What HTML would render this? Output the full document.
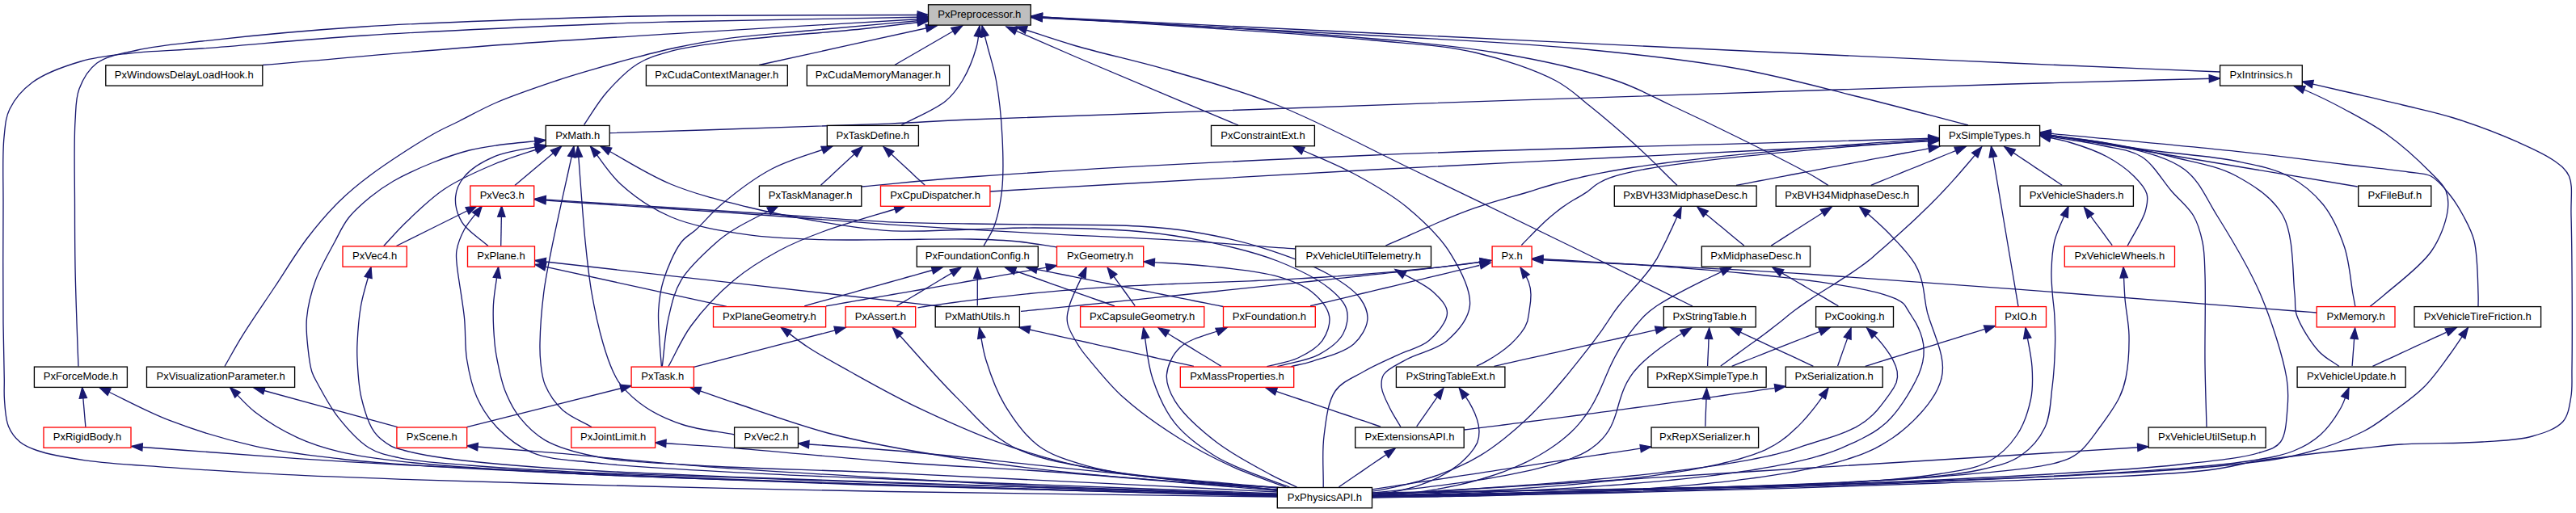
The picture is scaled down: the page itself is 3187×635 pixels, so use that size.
<!DOCTYPE html>
<html><head><meta charset="utf-8"><title>PxPreprocessor.h</title>
<style>html,body{margin:0;padding:0;background:#fff}svg{display:block}text{font-family:"Liberation Sans",sans-serif;font-size:13.05px;fill:#000;text-anchor:middle}.e{fill:none;stroke:#191970;stroke-width:1.33}.a{fill:#191970;stroke:#191970;stroke-width:1.33}.n{fill:#fff;stroke:#000;stroke-width:1.33}.r{fill:#fff;stroke:#f00;stroke-width:1.33}</style></head><body>
<svg width="3187" height="635" viewBox="0 0 3187 635">
<rect width="3187" height="635" fill="#fff"/>
<path class="e" d="M1148.5,21.0C1042.3,23.0 900.9,25.2 830.0,27.0 794.5,27.9 785.2,28.1 750.0,29.5 681.9,32.2 539.9,38.2 450.0,44.0 376.6,48.7 303.5,56.1 250.0,60.0 214.1,62.6 186.9,62.9 160.0,66.0 137.9,68.6 119.7,70.2 100.0,76.0 79.6,82.0 55.3,90.7 40.0,102.0 27.6,111.2 17.8,123.0 12.0,135.0 6.7,145.9 6.5,155.7 5.0,170.0 2.7,192.2 4.2,223.7 4.0,256.0 3.8,297.8 3.6,360.6 4.0,400.0 4.3,427.5 5.1,452.5 5.3,470.0 5.4,480.4 4.8,486.1 5.5,495.0 6.3,505.2 6.7,518.6 10.5,527.7 13.7,535.4 18.7,542.0 24.6,547.0 30.4,551.9 36.6,554.4 45.6,557.5 60.2,562.5 82.5,566.5 105.3,569.8 135.3,574.1 172.9,575.8 210.5,578.6 253.9,581.8 303.4,585.0 350.9,587.4 399.8,589.9 441.7,591.3 500.0,593.3 582.7,596.1 700.0,599.5 800.0,602.0 900.0,604.5 988.3,606.5 1100.0,608.5 1241.3,611.0 1420.2,612.8 1580.3,615.0"/><polygon class="a" points="1135.3,25.9 1148.5,21.0 1135.1,16.6"/>
<path class="e" d="M1148.5,24.5C1099.0,29.0 1044.6,33.8 1000.0,38.0 963.4,41.4 929.6,43.6 900.0,47.6 876.2,50.9 856.0,54.8 836.0,59.0 818.1,62.8 802.3,67.0 785.5,71.4 768.6,75.8 751.3,80.7 734.8,85.6 718.9,90.3 705.3,94.2 688.0,100.0 666.1,107.4 635.5,117.7 614.0,127.0 596.6,134.5 581.9,143.0 568.0,150.0 556.4,155.8 548.7,158.7 536.0,166.0 515.4,177.8 479.1,201.2 458.0,217.0 442.3,228.7 431.5,237.6 419.0,250.0 405.5,263.4 392.6,278.5 380.0,295.0 366.2,313.2 353.3,335.0 340.0,355.0 326.7,375.1 311.1,397.4 300.0,415.4 291.3,429.4 285.3,440.8 278.0,453.5"/><polygon class="a" points="1135.6,30.4 1148.5,24.5 1134.8,21.1"/>
<path class="e" d="M1148.5,23.0C1042.3,29.3 927.5,35.8 830.0,41.9 747.1,47.1 680.1,51.0 600.0,57.0 512.4,63.6 416.7,72.7 325.0,80.5"/><polygon class="a" points="1135.5,28.5 1148.5,23.0 1134.9,19.1"/>
<path class="e" d="M1212.0,32.0C1210.7,40.8 1210.7,48.9 1208.0,58.5 1204.5,71.0 1197.6,88.3 1190.6,100.0 1184.6,109.9 1179.5,117.1 1170.0,125.0 1156.8,135.9 1133.3,145.0 1115.0,155.0"/><polygon class="a" points="1214.6,45.9 1212.0,32.0 1205.4,44.5"/>
<path class="e" d="M1148.5,26.0C1120.7,29.3 1097.0,32.6 1065.0,36.0 1022.0,40.5 956.5,44.4 913.6,49.8 881.5,53.9 852.7,57.3 830.0,63.4 813.7,67.8 801.8,71.1 789.0,79.0 774.9,87.7 761.3,102.1 750.0,115.0 739.3,127.3 731.7,141.3 722.6,154.5"/><polygon class="a" points="1135.8,32.2 1148.5,26.0 1134.7,22.9"/>
<path class="e" d="M1215.0,32.0C1217.3,40.8 1219.5,48.7 1222.0,58.5 1225.2,70.8 1229.7,84.3 1232.5,100.0 1236.1,120.2 1238.9,147.0 1240.0,170.0 1241.1,192.3 1241.7,216.3 1239.5,236.0 1237.7,252.3 1234.5,267.7 1230.0,280.0 1226.5,289.6 1221.3,296.3 1217.0,304.5"/><polygon class="a" points="1222.9,43.7 1215.0,32.0 1213.9,46.1"/>
<path class="e" d="M1148.5,18.5C1042.3,18.8 900.9,18.7 830.0,19.5 794.5,19.9 785.2,20.0 750.0,21.0 681.9,23.0 539.8,27.2 450.0,33.0 376.5,37.8 301.6,45.1 250.0,51.0 217.3,54.7 193.3,56.7 170.0,62.0 151.2,66.3 132.3,68.9 120.0,78.0 109.4,85.9 102.5,98.1 98.0,110.0 93.4,122.1 94.1,133.4 93.0,150.0 91.3,176.9 92.5,223.8 92.5,256.0 92.5,282.9 92.6,305.7 93.0,330.0 93.4,353.7 94.3,378.2 95.0,400.0 95.6,419.0 96.3,435.7 97.0,453.5"/><polygon class="a" points="1135.2,23.2 1148.5,18.5 1135.2,13.9"/>
<path class="e" d="M1159.0,32.0C1085.7,48.2 1012.3,64.3 939.0,80.5"/><polygon class="a" points="1147.0,39.4 1159.0,32.0 1145.0,30.3"/>
<path class="e" d="M1190.6,32.0C1162.7,48.2 1134.7,64.3 1106.8,80.5"/><polygon class="a" points="1181.4,42.7 1190.6,32.0 1176.7,34.6"/>
<path class="e" d="M1257.0,33.0C1281.3,40.8 1302.5,48.5 1330.0,56.5 1364.9,66.7 1409.4,76.1 1450.0,88.0 1492.6,100.5 1534.4,111.9 1580.0,130.0 1633.5,151.3 1691.1,182.7 1750.0,211.0 1814.0,241.8 1888.8,278.1 1950.0,308.0 2002.0,333.4 2046.0,355.3 2094.0,379.0"/><polygon class="a" points="1271.1,32.6 1257.0,33.0 1268.3,41.5"/>
<path class="e" d="M1245.0,33.0C1273.3,45.3 1295.6,55.3 1330.0,70.0 1382.9,92.7 1464.7,126.7 1532.0,155.0"/><polygon class="a" points="1259.1,34.0 1245.0,33.0 1255.4,42.6"/>
<path class="e" d="M1276.0,20.0C1350.7,25.0 1427.5,29.9 1500.0,35.0 1568.6,39.9 1641.2,44.3 1700.0,50.0 1746.6,54.5 1786.1,56.0 1825.0,65.0 1860.7,73.3 1899.8,86.7 1925.0,100.0 1942.4,109.2 1951.0,118.4 1965.5,130.0 1983.4,144.3 2005.4,163.1 2024.0,180.0 2041.9,196.3 2058.0,213.0 2075.0,229.5"/><polygon class="a" points="1289.6,16.2 1276.0,20.0 1289.0,25.6"/>
<path class="e" d="M1276.0,21.0C1384.0,27.3 1499.1,32.0 1600.0,40.0 1688.8,47.0 1777.6,53.0 1850.0,65.0 1906.7,74.4 1960.5,86.6 2000.0,100.0 2027.2,109.2 2043.2,119.1 2066.6,130.0 2092.9,142.2 2121.8,156.0 2150.0,170.0 2179.5,184.6 2220.3,204.9 2240.0,216.0 2250.0,221.6 2254.7,225.0 2262.0,229.5"/><polygon class="a" points="1289.6,17.1 1276.0,21.0 1289.0,26.4"/>
<path class="e" d="M1276.0,21.5C1417.3,29.0 1577.2,36.8 1700.0,44.0 1794.3,49.5 1871.4,52.6 1950.0,60.0 2020.5,66.7 2088.4,74.0 2150.0,85.0 2203.9,94.6 2251.4,108.0 2300.0,120.0 2346.3,131.4 2390.0,143.3 2435.0,155.0"/><polygon class="a" points="1289.6,17.5 1276.0,21.5 1289.1,26.9"/>
<path class="e" d="M1276.0,20.5C1417.3,27.3 1552.8,33.9 1700.0,41.0 1859.8,48.7 2056.2,58.3 2200.0,65.0 2309.2,70.1 2394.6,73.9 2488.0,78.0 2576.5,81.9 2660.4,85.3 2746.6,89.0"/><polygon class="a" points="1289.5,16.5 1276.0,20.5 1289.1,25.8"/>
<path class="e" d="M284.5,479.5C294.9,489.7 303.4,500.6 315.8,510.2 330.5,521.6 350.4,533.5 368.4,541.8 385.5,549.7 401.5,554.6 421.0,559.3 444.5,565.0 467.4,567.9 500.0,571.6 552.4,577.5 627.8,581.9 706.0,586.0 809.1,591.5 934.5,594.8 1065.0,599.0 1221.3,604.0 1408.5,608.7 1580.3,613.5"/><polygon class="a" points="297.3,485.5 284.5,479.5 290.7,492.2"/>
<path class="e" d="M314.0,480.0C373.3,496.2 432.5,512.4 491.8,528.6"/><polygon class="a" points="328.1,479.0 314.0,480.0 325.6,488.0"/>
<path class="e" d="M577.7,552.0C613.8,554.9 645.0,557.1 686.0,560.6 739.8,565.2 806.0,572.5 872.7,577.6 949.5,583.5 1045.0,588.6 1121.0,593.0 1185.5,596.7 1233.7,599.6 1300.0,602.5 1383.0,606.1 1486.9,608.8 1580.3,612.0"/><polygon class="a" points="591.4,548.4 577.7,552.0 590.6,557.7"/>
<path class="e" d="M1103.0,191.0L1108.9,196.5 1115.1,202.2 1121.4,208.1 1127.6,213.8 1133.5,219.4 1139.2,224.6 1144.3,229.3"/><polygon class="a" points="1105.9,187.3 1093.0,181.6 1099.6,194.1"/>
<path class="e" d="M1030.0,181.0C1005.0,190.3 978.1,196.8 955.0,209.0 932.4,220.9 909.4,238.9 892.6,253.0 879.9,263.7 870.6,275.5 861.4,284.0 854.5,290.4 848.4,292.4 842.7,300.0 834.4,310.9 825.6,331.8 820.9,346.8 816.9,359.7 815.5,371.4 814.7,384.2 813.9,397.4 815.5,412.4 816.2,424.8 816.8,435.2 817.7,443.9 818.4,453.5"/><polygon class="a" points="1019.1,190.0 1030.0,181.0 1015.9,181.3"/>
<path class="e" d="M1056.8,191.0L1050.8,196.5 1044.6,202.2 1038.4,208.1 1032.2,213.8 1026.2,219.4 1020.6,224.6 1015.5,229.3"/><polygon class="a" points="1060.2,194.1 1066.8,181.6 1053.8,187.3"/>
<path class="e" d="M1120.0,255.0C1085.8,265.7 1045.8,276.5 1017.4,287.0 996.6,294.7 981.9,300.5 964.4,310.0 945.5,320.2 925.8,332.0 908.2,346.8 889.3,362.6 869.2,383.9 855.2,403.0 843.1,419.5 836.4,436.7 827.0,453.5"/><polygon class="a" points="1108.7,263.4 1120.0,255.0 1105.9,254.5"/>
<path class="e" d="M853.6,479.3C873.4,486.2 889.9,492.3 913.0,500.0 945.0,510.7 988.6,526.7 1028.0,537.0 1068.3,547.5 1108.7,554.7 1152.0,562.0 1199.0,570.0 1242.8,576.0 1300.0,582.3 1378.5,591.0 1486.9,598.1 1580.3,606.0"/><polygon class="a" points="867.7,479.3 853.6,479.3 864.7,488.1"/>
<path class="e" d="M781.0,477.5C713.2,494.5 645.4,511.6 577.6,528.6"/><polygon class="a" points="769.2,485.3 781.0,477.5 766.9,476.2"/>
<path class="e" d="M963.0,255.0C944.7,264.7 922.1,275.3 908.2,284.0 899.0,289.8 894.5,292.8 886.4,300.0 873.9,311.1 852.7,330.0 842.7,346.8 833.9,361.5 830.9,376.8 827.0,393.6 822.7,412.1 821.9,433.5 819.3,453.5"/><polygon class="a" points="953.4,265.4 963.0,255.0 949.0,257.1"/>
<path class="e" d="M675.2,173.4C654.8,175.6 631.3,177.5 614.0,180.0 601.2,181.8 592.5,183.0 580.7,186.0 566.8,189.6 551.1,195.0 536.0,201.0 519.9,207.5 500.9,216.0 487.0,224.0 475.8,230.5 467.2,236.5 458.0,244.0 448.5,251.8 438.5,260.4 431.0,270.0 423.8,279.2 419.8,288.8 413.8,300.0 406.4,313.8 396.3,330.9 390.5,346.8 385.0,362.1 380.9,378.8 379.5,393.6 378.2,406.7 379.8,419.4 381.0,431.0 382.1,441.3 383.2,451.9 385.8,460.0 387.8,466.3 390.1,469.5 393.6,476.0 399.4,486.6 408.5,504.0 418.5,516.7 429.1,530.1 442.5,545.6 456.0,554.0 467.7,561.2 478.1,563.2 493.4,566.6 516.2,571.6 549.0,573.3 580.7,576.0 618.6,579.2 658.1,581.5 705.5,583.8 768.1,586.9 854.9,589.2 923.8,591.6 985.7,593.8 1026.8,595.4 1100.0,597.8 1220.8,601.7 1420.2,607.3 1580.3,612.0"/><polygon class="a" points="662.4,179.5 675.2,173.4 661.4,170.2"/>
<path class="e" d="M694.6,181.0C675.4,197.2 656.1,213.3 636.9,229.5"/><polygon class="a" points="687.4,193.2 694.6,181.0 681.4,186.0"/>
<path class="e" d="M675.2,179.6C654.1,184.3 629.8,186.1 612.0,193.7 597.2,200.0 582.6,208.9 574.5,218.6 568.2,226.1 564.3,234.7 563.6,243.6 562.8,253.3 565.7,265.3 571.4,274.8 578.0,285.9 593.1,294.6 604.0,304.5"/><polygon class="a" points="663.2,187.1 675.2,179.6 661.2,177.9"/>
<path class="e" d="M742.9,181.0C771.9,196.7 799.8,215.5 830.0,228.0 860.1,240.4 892.4,248.2 923.8,256.0 954.8,263.7 987.1,269.8 1017.4,274.8 1045.7,279.5 1071.1,284.0 1100.0,285.7 1131.7,287.5 1168.5,284.7 1200.0,284.0 1228.2,283.4 1250.2,281.9 1280.0,282.0 1317.8,282.2 1370.2,283.0 1408.7,286.5 1440.3,289.4 1466.1,293.3 1494.5,299.3 1523.3,305.4 1554.3,312.7 1580.3,323.0 1603.8,332.3 1629.7,344.8 1644.6,357.0 1654.8,365.3 1663.3,373.4 1666.0,383.0 1668.6,392.1 1666.6,404.2 1661.8,413.0 1656.3,423.1 1644.0,432.2 1631.8,438.8 1617.6,446.5 1597.5,448.7 1580.3,453.6"/><polygon class="a" points="756.8,183.2 742.9,181.0 752.4,191.4"/>
<path class="e" d="M676.0,181.0C654.7,188.3 632.9,194.2 612.0,203.0 590.7,211.9 568.1,221.8 549.5,234.2 532.0,245.9 516.0,262.0 502.7,274.8 491.9,285.2 484.0,294.6 474.7,304.5"/><polygon class="a" points="664.9,189.7 676.0,181.0 661.9,180.9"/>
<path class="e" d="M710.0,181.0C700.7,224.0 688.6,276.5 682.0,310.0 677.8,331.3 675.0,344.1 672.7,362.4 670.2,382.2 668.3,408.6 668.0,424.8 667.8,435.1 668.0,441.6 669.0,450.0 670.0,458.7 670.6,467.5 674.3,476.2 678.7,486.6 686.7,498.8 696.0,507.4 705.7,516.4 720.0,521.5 732.0,528.6"/><polygon class="a" points="711.7,195.0 710.0,181.0 702.6,193.0"/>
<path class="e" d="M730.4,181.0C742.9,196.7 752.5,214.0 767.9,228.0 785.0,243.6 806.2,258.3 830.0,268.5 857.2,280.1 892.4,285.7 923.8,290.4 954.8,295.0 987.2,295.6 1017.4,296.6 1045.8,297.5 1071.2,296.7 1100.0,296.6 1131.7,296.5 1170.9,295.4 1200.0,296.0 1222.5,296.5 1241.2,297.1 1260.0,299.0 1276.8,300.7 1291.7,303.7 1307.5,306.0"/><polygon class="a" points="742.4,188.5 730.4,181.0 735.1,194.3"/>
<path class="e" d="M714.8,181.0C717.9,220.7 720.8,266.7 724.2,300.0 726.7,324.2 728.4,341.7 732.0,362.4 735.6,383.3 740.9,407.1 746.0,424.8 749.9,438.3 754.2,450.7 758.5,460.0 761.6,466.6 763.2,470.5 767.9,476.2 774.9,484.8 786.9,496.3 799.0,504.3 812.4,513.2 828.7,520.5 845.8,526.0 864.9,532.1 887.7,534.0 908.6,538.0"/><polygon class="a" points="720.5,193.9 714.8,181.0 711.2,194.7"/>
<path class="e" d="M596.3,255.0C589.0,264.7 579.8,274.2 574.5,284.0 569.9,292.6 566.3,302.4 565.0,310.0 564.0,315.6 564.5,318.2 565.0,325.0 566.0,339.6 572.4,372.3 574.5,393.6 576.3,411.9 574.9,428.4 577.6,445.0 580.2,461.1 583.6,477.6 590.0,491.8 596.2,505.5 604.3,518.1 615.0,529.2 626.7,541.3 641.0,553.1 658.7,560.4 680.1,569.2 705.0,569.3 736.7,572.9 785.5,578.4 862.3,582.0 923.8,585.4 983.4,588.7 1026.8,590.1 1100.0,593.0 1220.8,597.9 1420.2,605.0 1580.3,611.0"/><polygon class="a" points="592.0,268.5 596.3,255.0 584.6,262.8"/>
<path class="e" d="M620.6,255.0C620.3,271.5 620.0,288.0 619.7,304.5"/><polygon class="a" points="625.0,268.4 620.6,255.0 615.7,268.2"/>
<path class="e" d="M661.8,246.2C717.9,249.8 778.1,253.7 830.0,257.0 874.8,259.9 911.8,262.2 955.0,265.0 1001.5,268.1 1056.1,272.8 1100.0,274.8 1136.4,276.4 1168.5,276.5 1200.0,277.0 1228.2,277.5 1250.2,277.6 1280.0,278.0 1317.8,278.5 1373.2,277.9 1408.7,280.0 1433.9,281.5 1450.1,282.8 1473.0,286.5 1499.7,290.8 1530.6,297.0 1558.9,305.8 1587.8,314.8 1622.3,327.3 1644.6,340.0 1660.8,349.3 1675.6,359.1 1683.3,370.0 1689.0,378.2 1692.7,387.2 1691.8,396.0 1690.8,405.9 1683.8,417.9 1674.7,426.0 1663.1,436.2 1637.6,442.6 1623.2,447.3 1613.3,450.5 1606.1,451.5 1597.5,453.6"/><polygon class="a" points="675.4,242.4 661.8,246.2 674.8,251.7"/>
<path class="e" d="M661.8,247.2C717.9,251.0 778.1,255.0 830.0,258.5 874.8,261.5 911.8,263.9 955.0,267.0 1001.5,270.3 1049.0,274.5 1100.0,277.9 1156.7,281.7 1220.7,285.4 1280.0,288.6 1337.9,291.8 1396.2,293.8 1451.6,297.2 1503.6,300.4 1552.4,304.4 1602.8,308.0"/><polygon class="a" points="675.4,243.4 661.8,247.2 674.8,252.8"/>
<path class="e" d="M590.0,255.0C556.8,271.5 523.5,288.0 490.3,304.5"/><polygon class="a" points="580.1,265.1 590.0,255.0 576.0,256.7"/>
<path class="e" d="M616.6,330.6C614.5,346.4 611.2,362.2 610.4,378.0 609.7,393.6 610.9,412.5 612.0,424.8 612.7,433.0 613.5,437.3 615.0,445.0 617.1,455.6 619.8,470.5 624.4,482.4 629.1,494.4 634.9,506.5 643.0,516.7 651.4,527.3 661.1,537.2 674.3,544.8 690.8,554.3 712.0,560.0 736.7,565.0 770.8,571.9 813.1,572.9 861.4,576.0 928.1,580.3 1006.7,581.3 1100.0,585.4 1232.4,591.3 1420.2,601.1 1580.3,609.0"/><polygon class="a" points="619.5,344.4 616.6,330.6 610.2,343.2"/>
<path class="e" d="M661.8,322.5C829.5,341.4 997.3,360.4 1165.0,379.3"/><polygon class="a" points="675.6,319.4 661.8,322.5 674.5,328.6"/>
<path class="e" d="M661.8,327.4C740.8,344.7 819.9,362.0 898.9,379.3"/><polygon class="a" points="675.8,325.7 661.8,327.4 673.8,334.8"/>
<path class="e" d="M1211.6,405.5C1214.4,418.9 1215.5,431.5 1219.9,445.8 1225.2,462.9 1232.5,483.6 1242.8,500.8 1253.6,518.8 1267.2,538.6 1284.0,551.2 1300.8,563.8 1320.0,569.6 1343.6,576.4 1375.1,585.4 1418.9,590.2 1458.0,594.7 1498.6,599.4 1541.3,600.6 1583.0,603.5"/><polygon class="a" points="1218.9,417.6 1211.6,405.5 1209.7,419.5"/>
<path class="e" d="M1273.9,408.0L1280.9,409.6 1288.1,411.2 1295.6,412.8 1303.2,414.5 1311.0,416.3 1318.9,418.1 1327.0,419.9 1335.1,421.7 1343.4,423.5 1351.7,425.4 1360.1,427.3 1368.4,429.1 1376.8,431.0 1385.2,432.9 1393.5,434.7 1401.8,436.6 1410.0,438.4 1418.1,440.2 1426.1,442.0 1433.9,443.8 1441.6,445.5 1449.1,447.2 1456.4,448.8 1463.5,450.4 1470.3,451.9 1476.9,453.4"/><polygon class="a" points="1274.9,403.4 1260.9,405.1 1272.9,412.5"/>
<path class="e" d="M1578.9,484.4L1586.0,486.8 1593.4,489.3 1600.9,491.9 1608.7,494.5 1616.6,497.2 1624.7,499.9 1632.8,502.6 1640.9,505.4 1649.0,508.1 1657.0,510.9 1665.0,513.5 1672.8,516.2 1680.4,518.8 1687.8,521.2 1694.9,523.7 1701.7,526.0 1708.1,528.1"/><polygon class="a" points="1580.4,480.0 1566.2,480.1 1577.4,488.8"/>
<path class="e" d="M1714.7,563.0L1707.5,567.9 1699.9,573.0 1692.2,578.3 1684.5,583.6 1676.9,588.8 1669.6,593.8 1662.7,598.5 1656.4,602.8"/><polygon class="a" points="1717.8,566.5 1726.1,555.1 1712.5,558.8"/>
<path class="e" d="M966.0,405.0C977.3,413.3 987.3,421.7 1000.0,430.0 1014.8,439.7 1030.9,448.4 1050.0,459.0 1075.0,472.9 1105.9,490.5 1137.4,505.4 1172.7,522.1 1213.3,540.4 1252.0,553.5 1289.7,566.2 1326.3,575.9 1366.5,583.2 1410.0,591.1 1464.8,594.4 1504.0,598.0 1533.1,600.7 1554.9,602.0 1580.3,604.0"/><polygon class="a" points="979.5,409.1 966.0,405.0 974.0,416.7"/>
<path class="e" d="M1726.0,333.6C1741.8,342.9 1762.2,351.0 1773.3,361.5 1781.7,369.4 1790.5,378.1 1790.5,387.3 1790.5,397.9 1778.0,413.0 1768.0,421.6 1758.0,430.2 1743.4,432.7 1730.5,438.8 1716.5,445.4 1700.4,452.2 1687.0,460.0 1674.4,467.3 1660.1,472.3 1652.0,484.0 1642.5,497.6 1640.5,520.6 1638.0,540.0 1635.4,560.2 1637.5,582.0 1637.2,603.0"/><polygon class="a" points="1739.9,336.3 1726.0,333.6 1735.1,344.4"/>
<path class="e" d="M459.0,330.6C454.9,346.4 449.4,362.1 446.6,378.0 443.8,393.5 442.6,412.4 442.0,424.8 441.6,432.9 441.6,436.9 442.0,445.0 442.7,457.4 443.4,476.9 447.0,492.0 450.5,506.8 455.6,524.2 463.0,534.7 468.8,542.8 477.3,548.5 484.2,552.3 489.6,555.3 493.2,555.7 500.0,557.5 511.8,560.6 529.2,564.1 549.5,567.0 581.6,571.6 625.5,575.5 674.3,579.0 743.2,584.0 820.9,586.8 923.8,591.0 1090.7,597.8 1361.5,605.7 1580.3,613.0"/><polygon class="a" points="460.1,344.7 459.0,330.6 451.1,342.3"/>
<path class="e" d="M810.6,548.0C841.6,550.1 866.2,551.4 903.7,554.3 961.0,558.7 1052.0,567.9 1121.0,573.0 1183.5,577.6 1233.7,579.2 1300.0,584.0 1383.0,590.0 1486.9,599.7 1580.3,607.5"/><polygon class="a" points="824.2,544.2 810.6,548.0 823.6,553.6"/>
<path class="e" d="M1344.0,330.5C1337.0,346.6 1326.5,365.7 1323.0,378.7 1320.8,387.0 1319.3,392.5 1320.7,400.0 1322.4,409.4 1330.6,421.8 1335.8,430.0 1339.8,436.3 1342.6,439.3 1348.0,445.8 1357.6,457.2 1373.0,476.8 1389.4,491.6 1408.7,509.0 1434.6,527.3 1458.0,542.0 1480.4,556.1 1503.9,568.3 1526.8,578.7 1548.3,588.4 1569.6,594.9 1591.0,603.0"/><polygon class="a" points="1343.0,344.6 1344.0,330.5 1334.4,340.9"/>
<path class="e" d="M1415.0,323.8C1441.5,325.7 1467.6,326.4 1494.5,329.4 1522.6,332.5 1557.0,335.4 1580.3,342.2 1597.5,347.2 1612.2,352.5 1623.2,361.5 1632.9,369.5 1642.8,381.1 1644.6,391.6 1646.2,401.2 1641.9,413.2 1636.0,421.6 1629.6,430.7 1617.1,437.7 1606.0,443.0 1594.4,448.5 1580.3,450.1 1567.4,453.6"/><polygon class="a" points="1428.6,320.1 1415.0,323.8 1428.0,329.4"/>
<path class="e" d="M1294.5,331.1L1285.5,332.7 1276.4,334.3 1267.4,335.9 1258.4,337.5 1249.4,339.1 1240.4,340.7 1231.4,342.3 1222.5,343.9 1213.6,345.4 1204.8,347.0 1196.0,348.5 1187.3,350.1 1178.6,351.6 1170.1,353.1 1161.5,354.6 1153.1,356.1 1144.8,357.5 1136.5,359.0 1128.4,360.4 1120.3,361.8 1112.4,363.2 1104.6,364.5 1096.9,365.9 1089.3,367.2 1081.8,368.5 1074.5,369.7 1067.4,371.0 1060.4,372.2 1053.5,373.4 1046.9,374.5 1040.3,375.7 1034.0,376.8 1027.8,377.8 1021.9,378.9"/><polygon class="a" points="1295.4,335.6 1307.7,328.7 1293.7,326.5"/>
<path class="e" d="M1378.2,342.5L1383.5,349.9 1389.1,357.5 1394.5,365.0 1399.6,372.1 1404.2,378.5"/><polygon class="a" points="1381.8,339.4 1370.2,331.4 1374.2,344.9"/>
<path class="e" d="M1414.6,405.5C1418.4,426.6 1419.4,448.8 1426.0,468.7 1432.5,488.2 1440.8,507.8 1453.5,523.7 1466.6,540.1 1485.0,553.4 1504.0,565.0 1524.4,577.4 1555.8,588.0 1572.6,594.7 1582.2,598.5 1587.9,600.2 1595.5,603.0"/><polygon class="a" points="1421.6,417.8 1414.6,405.5 1412.4,419.4"/>
<path class="e" d="M1444.7,412.8L1451.9,417.2 1459.5,421.9 1467.2,426.6 1475.0,431.4 1482.8,436.2 1490.4,440.8 1497.7,445.3 1504.6,449.5 1510.9,453.4"/><polygon class="a" points="1446.9,408.7 1433.1,405.7 1442.0,416.7"/>
<path class="e" d="M987.5,549.0C1032.0,552.3 1073.3,554.7 1121.0,559.0 1176.3,563.9 1233.7,570.7 1300.0,577.6 1383.0,586.2 1486.9,596.9 1580.3,606.5"/><polygon class="a" points="1001.1,545.3 987.5,549.0 1000.4,554.7"/>
<path class="e" d="M1209.3,344.7L1209.3,353.6 1209.3,362.4 1209.3,370.9 1209.3,378.5"/><polygon class="a" points="1214.0,344.7 1209.3,331.4 1204.6,344.7"/>
<path class="e" d="M1153.4,334.5L1146.1,336.5 1138.6,338.6 1130.8,340.8 1122.9,343.0 1114.8,345.3 1106.5,347.6 1098.2,350.0 1089.7,352.3 1081.3,354.7 1072.8,357.0 1064.4,359.4 1056.0,361.8 1047.7,364.1 1039.6,366.4 1031.6,368.6 1023.8,370.8 1016.3,372.9 1009.0,374.9 1001.9,376.9 995.2,378.8"/><polygon class="a" points="1154.7,339.0 1166.2,330.9 1152.2,330.0"/>
<path class="e" d="M1256.0,335.3L1263.2,337.9 1270.7,340.5 1278.4,343.2 1286.3,346.0 1294.4,348.9 1302.5,351.8 1310.7,354.7 1318.9,357.6 1327.1,360.4 1335.1,363.3 1343.1,366.1 1350.8,368.8 1358.3,371.5 1365.5,374.0 1372.4,376.5 1379.0,378.8"/><polygon class="a" points="1257.6,330.9 1243.4,330.9 1254.4,339.7"/>
<path class="e" d="M1177.1,338.2L1169.7,342.6 1162.0,347.2 1154.1,352.0 1146.1,356.8 1138.2,361.6 1130.4,366.2 1122.9,370.7 1115.9,374.9 1109.4,378.8"/><polygon class="a" points="1179.9,341.9 1189.0,331.1 1175.1,333.9"/>
<path class="e" d="M1282.9,333.5L1290.1,334.9 1297.5,336.4 1305.0,337.9 1312.8,339.5 1320.7,341.0 1328.7,342.6 1336.9,344.3 1345.1,345.9 1353.5,347.6 1361.9,349.3 1370.4,351.0 1379.0,352.7 1387.5,354.4 1396.1,356.1 1404.6,357.8 1413.1,359.5 1421.6,361.2 1430.0,362.9 1438.3,364.5 1446.5,366.2 1454.7,367.8 1462.6,369.4 1470.5,370.9 1478.1,372.5 1485.6,374.0 1492.9,375.4 1499.9,376.8 1506.8,378.2 1513.3,379.5"/><polygon class="a" points="1283.7,328.9 1269.7,330.9 1281.9,338.1"/>
<path class="e" d="M1104.4,405.5C1130.7,434.2 1157.2,466.0 1183.2,491.6 1206.3,514.3 1224.1,537.6 1252.0,552.5 1283.7,569.4 1326.3,574.9 1366.5,582.2 1410.0,590.1 1464.7,593.2 1504.0,597.0 1533.3,599.8 1555.3,601.3 1581.0,603.5"/><polygon class="a" points="1116.8,412.2 1104.4,405.5 1110.0,418.5"/>
<path class="e" d="M1046.0,405.5C983.4,421.8 920.9,438.1 858.3,454.4"/><polygon class="a" points="1034.3,413.4 1046.0,405.5 1031.9,404.3"/>
<path class="e" d="M1518.0,405.5C1498.7,413.7 1472.5,418.2 1460.0,430.0 1450.3,439.1 1444.3,452.7 1443.4,464.0 1442.6,474.7 1446.8,485.1 1453.5,496.2 1463.3,512.3 1484.9,531.7 1504.0,546.6 1524.3,562.4 1553.8,577.7 1572.6,587.8 1585.1,594.5 1594.0,597.9 1604.7,603.0"/><polygon class="a" points="1507.5,415.0 1518.0,405.5 1503.9,406.4"/>
<path class="e" d="M123.0,479.5C152.2,493.2 179.5,508.8 210.5,520.7 243.5,533.4 280.4,544.4 315.8,552.3 350.6,560.1 388.4,564.1 421.0,568.0 449.2,571.3 466.3,572.6 500.0,575.0 559.5,579.2 659.9,584.0 747.5,588.0 846.7,592.5 946.4,596.1 1065.0,600.0 1216.1,604.9 1408.5,609.3 1580.3,614.0"/><polygon class="a" points="137.0,481.0 123.0,479.5 133.1,489.4"/>
<path class="e" d="M101.7,479.5C103.1,495.9 104.5,512.3 105.9,528.7"/><polygon class="a" points="107.5,492.4 101.7,479.5 98.2,493.2"/>
<path class="e" d="M162.8,552.5C225.5,557.1 291.8,562.3 350.9,566.3 403.5,569.9 441.7,572.4 500.0,575.5 582.7,579.9 700.0,584.8 800.0,589.0 900.0,593.2 988.3,596.7 1100.0,600.5 1241.3,605.3 1420.2,609.8 1580.3,614.5"/><polygon class="a" points="176.4,548.8 162.8,552.5 175.8,558.1"/>
<path class="e" d="M2080.8,412.7L2074.3,416.8 2067.5,421.3 2060.6,426.0 2053.6,431.0 2046.7,436.3 2039.9,441.8 2033.4,447.6 2027.3,453.5 2021.3,460.2 2016.6,466.8 2012.8,473.3 2009.7,479.7 2007.2,486.0 2005.1,492.2 2003.2,498.3 2001.5,504.3 1999.8,510.2 1997.9,516.1 1995.8,521.8 1993.2,527.5 1990.1,533.1 1986.2,538.6 1981.6,544.1 1975.9,549.5 1969.1,554.8 1965.3,557.4 1960.9,559.9 1956.1,562.3 1950.8,564.7 1945.1,567.0 1939.0,569.3 1932.6,571.5 1925.8,573.6 1918.7,575.7 1911.3,577.7 1903.6,579.7 1895.7,581.6 1887.6,583.4 1879.2,585.2 1870.7,586.9 1862.0,588.6 1853.1,590.2 1844.2,591.8 1835.1,593.3 1826.0,594.7 1816.9,596.1 1807.7,597.4 1798.6,598.7 1789.5,599.9 1780.4,601.1 1771.4,602.2 1762.5,603.3 1753.7,604.3 1745.1,605.3 1736.6,606.2 1728.4,607.1 1720.3,607.9 1712.5,608.7 1705.0,609.4 1697.7,610.1"/><polygon class="a" points="2083.4,416.6 2092.5,405.7 2078.6,408.6"/>
<path class="e" d="M2153.1,411.2L2160.3,414.6 2167.9,418.1 2175.6,421.7 2183.5,425.4 2191.5,429.1 2199.5,432.9 2207.5,436.6 2215.3,440.2 2222.8,443.7 2230.1,447.1 2237.0,450.3 2243.4,453.3"/><polygon class="a" points="2155.0,407.0 2141.0,405.6 2151.1,415.4"/>
<path class="e" d="M2048.2,408.6L2041.0,410.2 2033.5,411.8 2025.8,413.6 2018.0,415.3 2009.9,417.1 2001.8,419.0 1993.5,420.8 1985.1,422.7 1976.6,424.6 1968.1,426.5 1959.6,428.4 1951.0,430.3 1942.5,432.2 1933.9,434.2 1925.5,436.1 1917.1,437.9 1908.8,439.8 1900.6,441.6 1892.6,443.4 1884.7,445.2 1877.0,446.9 1869.5,448.6 1862.3,450.2 1855.3,451.8 1848.5,453.3"/><polygon class="a" points="2049.6,413.0 2061.5,405.6 2047.5,403.9"/>
<path class="e" d="M2114.0,419.4L2113.7,428.2 2113.3,437.0 2112.9,445.5 2112.6,453.0"/><polygon class="a" points="2118.7,419.6 2114.6,406.0 2109.4,419.2"/>
<path class="e" d="M2254.3,491.6L2250.2,497.4 2245.7,503.4 2240.7,509.7 2235.4,516.0 2229.7,522.4 2223.6,528.6 2217.1,534.6 2210.4,540.4 2203.3,545.7 2195.9,550.5 2188.3,554.7 2184.0,556.8 2179.4,558.8 2174.6,560.7 2169.4,562.6 2164.0,564.4 2158.3,566.2 2152.4,568.0 2146.2,569.7 2139.8,571.4 2133.1,573.0 2126.3,574.6 2119.2,576.2 2112.0,577.7 2104.5,579.2 2096.9,580.6 2089.1,582.0 2081.1,583.4 2073.0,584.7 2064.7,586.0 2056.3,587.2 2047.8,588.4 2039.1,589.6 2030.4,590.7 2021.5,591.8 2012.6,592.9 2003.5,594.0 1994.4,595.0 1985.2,595.9 1976.0,596.9 1966.7,597.8 1957.4,598.7 1948.0,599.5 1938.6,600.3 1929.2,601.1 1919.8,601.9 1910.4,602.6 1901.1,603.3 1891.7,604.0 1882.4,604.7 1873.1,605.3 1863.9,605.9 1854.7,606.4 1845.6,607.0 1836.6,607.5 1827.7,608.0 1818.8,608.5 1810.1,609.0 1801.5,609.4 1793.0,609.8 1784.6,610.2 1776.4,610.6 1768.3,610.9 1760.3,611.3 1752.6,611.6 1745.0,611.9 1737.6,612.1 1730.4,612.4 1723.4,612.6 1716.6,612.9 1710.1,613.1 1703.7,613.3 1697.6,613.5"/><polygon class="a" points="2258.5,493.8 2262.0,480.1 2250.7,488.6"/>
<path class="e" d="M2195.6,480.3L2186.6,481.6 2177.5,482.9 2168.4,484.3 2159.3,485.6 2150.2,486.9 2141.1,488.2 2132.0,489.5 2122.9,490.8 2113.8,492.1 2104.8,493.4 2095.7,494.7 2086.7,495.9 2077.7,497.2 2068.7,498.4 2059.8,499.7 2050.9,500.9 2042.0,502.1 2033.2,503.3 2024.5,504.5 2015.8,505.6 2007.1,506.8 1998.6,507.9 1990.1,509.1 1981.6,510.2 1973.3,511.3 1965.0,512.4 1956.8,513.5 1948.7,514.5 1940.7,515.6 1932.8,516.6 1925.0,517.6 1917.3,518.6 1909.7,519.6 1902.2,520.6 1894.8,521.5 1887.6,522.4 1880.4,523.4 1873.5,524.2 1866.6,525.1 1859.9,526.0 1853.3,526.8 1846.9,527.6 1840.6,528.4 1834.5,529.2 1828.5,529.9 1822.7,530.6 1817.1,531.3 1811.6,532.0"/><polygon class="a" points="2196.6,484.8 2209.1,478.2 2195.3,475.6"/>
<path class="e" d="M1813.4,491.3L1817.5,497.7 1821.3,504.6 1824.7,511.8 1827.4,519.1 1829.3,526.6 1830.0,534.0 1829.5,541.2 1827.6,548.2 1823.9,554.7 1819.0,561.1 1813.5,567.0 1807.7,572.4 1801.5,577.4 1795.0,582.1 1788.2,586.3 1781.1,590.2 1773.8,593.7 1766.3,596.8 1758.7,599.7 1751.0,602.3 1743.2,604.5 1735.4,606.5 1727.7,608.2 1720.0,609.7 1712.5,611.0 1705.1,612.1 1697.8,613.0"/><polygon class="a" points="1817.0,488.3 1805.3,480.3 1809.4,493.8"/>
<path class="e" d="M1778.0,491.7L1772.8,499.2 1767.4,506.8 1762.2,514.3 1757.2,521.4 1752.7,527.8"/><polygon class="a" points="1782.0,494.2 1785.8,480.6 1774.3,488.8"/>
<path class="e" d="M2111.0,494.0L2110.7,502.8 2110.3,511.8 2110.0,520.2 2109.8,527.8"/><polygon class="a" points="2115.7,494.1 2111.5,480.6 2106.3,493.8"/>
<path class="e" d="M2029.5,555.1L2022.5,556.2 2015.3,557.3 2007.9,558.4 2000.3,559.6 1992.6,560.7 1984.7,562.0 1976.7,563.2 1968.5,564.4 1960.2,565.7 1951.8,567.0 1943.3,568.3 1934.7,569.6 1926.0,570.9 1917.3,572.2 1908.5,573.6 1899.7,574.9 1890.8,576.3 1881.9,577.7 1873.0,579.0 1864.1,580.4 1855.2,581.7 1846.3,583.1 1837.5,584.4 1828.7,585.8 1820.0,587.1 1811.3,588.4 1802.8,589.7 1794.3,591.0 1785.9,592.3 1777.6,593.6 1769.5,594.8 1761.5,596.0 1753.6,597.2 1745.9,598.4 1738.4,599.6 1731.1,600.7 1723.9,601.8 1717.0,602.8 1710.3,603.9 1703.8,604.9 1697.5,605.8"/><polygon class="a" points="2030.4,559.7 2042.9,553.1 2029.0,550.5"/>
<path class="e" d="M1600.0,181.0C1625.0,192.3 1651.3,202.2 1675.0,215.0 1697.9,227.3 1720.2,239.7 1740.0,256.0 1760.2,272.7 1781.6,292.9 1794.8,314.3 1807.0,334.1 1820.6,359.8 1818.4,378.7 1816.5,395.1 1802.8,411.0 1790.0,422.0 1776.8,433.3 1754.0,437.2 1740.0,445.0 1729.1,451.1 1716.6,456.4 1712.0,463.5 1708.8,468.5 1708.7,474.0 1709.4,480.0 1710.3,487.6 1715.5,496.9 1719.4,505.0 1723.3,513.1 1728.5,520.7 1733.0,528.5"/><polygon class="a" points="1614.1,182.3 1600.0,181.0 1610.2,190.8"/>
<path class="e" d="M2074.7,268.7L2072.9,272.7 2070.9,277.1 2068.9,281.6 2066.6,286.4 2064.3,291.4 2061.8,296.7 2059.1,302.1 2056.3,307.8 2053.3,313.6 2050.2,319.6 2046.4,325.7 2042.0,332.0 2037.0,338.5 2031.6,345.0 2025.7,351.7 2019.7,358.5 2013.6,365.4 2007.6,372.4 2001.9,379.5 1996.6,386.6 1991.8,393.8 1987.1,401.0 1982.1,408.3 1976.8,415.6 1971.4,422.9 1965.9,430.1 1960.2,437.4 1954.5,444.7 1948.7,451.9 1942.9,459.1 1937.1,466.3 1931.2,473.3 1925.2,480.3 1919.2,487.3 1913.0,494.1 1906.6,500.8 1900.2,507.4 1893.7,513.9 1887.1,520.2 1880.3,526.4 1873.5,532.4 1866.6,538.3 1859.6,544.0 1852.4,549.5 1845.2,554.8 1838.6,559.3 1831.7,563.6 1824.6,567.7 1817.4,571.6 1810.0,575.2 1802.5,578.7 1794.9,581.9 1787.2,584.9 1779.5,587.8 1771.7,590.5 1763.9,592.9 1756.1,595.3 1748.4,597.4 1740.8,599.4 1733.2,601.2 1725.8,602.9 1718.5,604.4 1711.4,605.8 1704.5,607.1 1697.8,608.2"/><polygon class="a" points="2079.0,270.5 2080.1,256.4 2070.5,266.7"/>
<path class="e" d="M2110.4,264.9L2117.2,270.5 2124.3,276.4 2131.5,282.3 2138.6,288.2 2145.5,293.9 2151.9,299.2 2157.8,304.1"/><polygon class="a" points="2113.3,261.2 2100.0,256.3 2107.3,268.4"/>
<path class="e" d="M2129.8,336.5L2122.1,340.1 2114.0,344.0 2105.5,348.2 2096.5,352.6 2087.2,357.3 2077.7,362.3 2068.0,367.6 2058.5,373.1 2049.5,378.8 2041.4,384.8 2034.6,390.7 2029.2,396.6 2024.1,402.5 2019.4,408.4 2015.0,414.2 2010.9,420.0 2007.1,425.8 2003.6,431.6 2000.4,437.3 1997.3,443.0 1994.5,448.6 1991.8,454.3 1989.3,459.9 1986.9,465.4 1984.6,471.0 1982.2,476.5 1979.8,481.9 1977.3,487.4 1974.6,492.8 1971.8,498.1 1968.7,503.5 1965.4,508.8 1961.8,514.0 1957.9,519.2 1953.7,524.4 1949.0,529.6 1943.9,534.7 1938.3,539.8 1932.3,544.8 1925.7,549.8 1918.5,554.8 1911.5,559.2 1904.4,563.5 1897.0,567.5 1889.6,571.3 1882.0,574.9 1874.2,578.3 1866.4,581.5 1858.5,584.5 1850.4,587.3 1842.4,590.0 1834.3,592.5 1826.1,594.8 1818.0,597.0 1809.8,599.0 1801.7,600.8 1793.5,602.5 1785.5,604.1 1777.5,605.6 1769.5,606.9 1761.7,608.1 1754.0,609.2 1746.4,610.1 1738.9,611.0 1731.6,611.8 1724.4,612.4 1717.5,613.0 1710.7,613.5 1704.1,613.9 1697.8,614.3"/><polygon class="a" points="2131.9,340.6 2142.2,330.9 2128.1,332.1"/>
<path class="e" d="M2203.5,337.3L2209.7,340.9 2216.2,344.8 2222.9,348.7 2229.8,352.7 2236.6,356.7 2243.4,360.7 2250.2,364.6 2256.7,368.4 2262.9,372.1 2268.9,375.6 2274.4,378.8"/><polygon class="a" points="2206.8,333.8 2192.9,331.1 2202.0,341.8"/>
<path class="e" d="M2319.3,415.3L2324.3,420.8 2329.2,426.7 2333.9,432.9 2338.4,439.4 2342.2,446.1 2345.3,452.9 2347.2,459.8 2347.5,466.6 2346.1,473.5 2342.8,480.2 2337.3,488.3 2332.0,495.6 2327.0,502.2 2322.2,508.0 2317.2,513.2 2312.1,517.8 2306.9,521.9 2301.5,525.5 2295.9,528.8 2290.0,531.7 2284.0,534.4 2277.6,536.9 2270.9,539.3 2263.9,541.7 2256.5,544.0 2248.7,546.4 2240.6,549.0 2232.0,551.7 2222.9,554.8 2218.4,556.3 2213.6,557.8 2208.6,559.2 2203.3,560.6 2197.7,562.1 2191.9,563.5 2185.9,564.8 2179.6,566.2 2173.1,567.5 2166.4,568.8 2159.5,570.1 2152.4,571.4 2145.1,572.6 2137.6,573.9 2130.0,575.1 2122.2,576.3 2114.2,577.4 2106.1,578.6 2097.9,579.7 2089.5,580.8 2081.0,581.9 2072.4,583.0 2063.7,584.0 2054.8,585.1 2045.9,586.1 2036.9,587.1 2027.9,588.1 2018.7,589.0 2009.5,590.0 2000.3,590.9 1991.0,591.8 1981.6,592.7 1972.3,593.5 1962.9,594.4 1953.4,595.2 1944.0,596.0 1934.6,596.8 1925.2,597.6 1915.8,598.3 1906.5,599.1 1897.1,599.8 1887.8,600.5 1878.6,601.2 1869.4,601.8 1860.3,602.5 1851.2,603.1 1842.3,603.7 1833.4,604.3 1824.6,604.9 1815.9,605.5 1807.4,606.0 1798.9,606.5 1790.6,607.0 1782.4,607.5 1774.4,608.0 1766.5,608.5 1758.7,608.9 1751.2,609.3 1743.8,609.7 1736.6,610.1 1729.6,610.5 1722.8,610.9 1716.1,611.2 1709.8,611.5 1703.6,611.8 1697.6,612.1"/><polygon class="a" points="2322.4,411.8 2309.6,405.9 2315.9,418.5"/>
<path class="e" d="M2285.7,418.6L2282.5,427.6 2279.3,436.6 2276.3,445.3 2273.6,453.0"/><polygon class="a" points="2290.1,420.2 2290.1,406.0 2281.3,417.1"/>
<path class="e" d="M2251.4,410.5L2244.0,413.4 2236.4,416.4 2228.5,419.5 2220.4,422.7 2212.2,425.9 2203.9,429.2 2195.6,432.4 2187.4,435.7 2179.3,438.9 2171.4,442.0 2163.7,445.0 2156.3,447.9 2149.2,450.7 2142.6,453.3"/><polygon class="a" points="2253.3,414.8 2264.0,405.6 2249.9,406.1"/>
<path class="e" d="M2311.3,265.0L2316.1,269.2 2321.1,273.7 2326.3,278.5 2331.6,283.6 2337.1,289.0 2342.6,294.7 2348.2,300.6 2353.7,306.8 2359.2,313.1 2364.5,319.8 2369.1,326.6 2372.7,333.6 2375.5,340.7 2377.7,348.1 2379.3,355.5 2380.5,363.2 2381.6,370.9 2382.8,378.7 2384.5,386.9 2387.0,395.0 2389.8,403.0 2392.6,410.8 2395.3,418.5 2397.9,426.1 2400.1,433.5 2401.9,440.8 2403.0,447.9 2403.5,454.9 2403.1,461.8 2401.9,468.5 2399.9,475.1 2397.2,481.5 2393.8,487.8 2390.0,493.9 2385.8,499.8 2381.2,505.7 2376.3,511.3 2371.2,516.8 2365.9,522.1 2360.3,527.3 2354.5,532.3 2348.4,537.1 2342.0,541.8 2335.1,546.3 2327.9,550.6 2320.2,554.8 2316.0,556.8 2311.5,558.9 2306.8,560.9 2301.9,562.8 2296.7,564.7 2291.3,566.5 2285.7,568.3 2279.9,570.1 2273.9,571.8 2267.7,573.5 2261.3,575.1 2254.7,576.7 2247.9,578.3 2240.9,579.8 2233.8,581.2 2226.5,582.6 2219.1,584.0 2211.5,585.4 2203.8,586.7 2195.9,587.9 2187.9,589.2 2179.8,590.4 2171.5,591.5 2163.1,592.6 2154.6,593.7 2146.1,594.8 2137.4,595.8 2128.6,596.8 2119.7,597.7 2110.8,598.6 2101.8,599.5 2092.7,600.4 2083.6,601.2 2074.4,602.0 2065.1,602.8 2055.8,603.5 2046.5,604.2 2037.1,604.9 2027.7,605.5 2018.3,606.2 2008.9,606.8 1999.4,607.3 1990.0,607.9 1980.6,608.4 1971.1,608.9 1961.7,609.4 1952.3,609.8 1942.9,610.2 1933.6,610.6 1924.3,611.0 1915.1,611.4 1905.9,611.7 1896.7,612.0 1887.6,612.3 1878.6,612.6 1869.7,612.9 1860.8,613.1 1852.0,613.4 1843.3,613.6 1834.7,613.8 1826.3,614.0 1817.9,614.1 1809.6,614.3 1801.5,614.4 1793.5,614.5 1785.6,614.7 1777.8,614.8 1770.3,614.8 1762.8,614.9 1755.5,615.0 1748.4,615.0 1741.4,615.1 1734.7,615.1 1728.1,615.2 1721.6,615.2 1715.4,615.2 1709.4,615.2 1703.6,615.2 1698.0,615.2"/><polygon class="a" points="2314.0,261.1 2300.7,256.1 2307.9,268.3"/>
<path class="e" d="M2254.3,263.8L2247.4,268.2 2240.2,272.8 2232.8,277.5 2225.4,282.3 2218.0,287.0 2210.8,291.6 2203.8,296.1 2197.3,300.3 2191.3,304.1"/><polygon class="a" points="2257.3,267.4 2266.1,256.3 2252.3,259.5"/>
<path class="e" d="M2523.6,166.5C2555.7,171.0 2589.4,172.4 2620.0,180.0 2649.1,187.2 2682.0,194.0 2703.0,210.0 2721.6,224.2 2729.3,245.1 2743.0,267.0 2760.3,294.7 2782.1,330.4 2796.5,364.0 2810.7,397.4 2824.6,441.9 2829.0,468.0 2831.5,483.2 2831.1,492.3 2830.0,505.0 2828.8,518.6 2828.4,537.8 2821.5,547.0 2815.9,554.5 2808.0,556.3 2796.5,560.0 2774.7,567.1 2738.9,570.5 2696.7,575.0 2624.2,582.8 2506.3,588.9 2400.0,594.0 2276.6,600.0 2124.0,603.5 2000.0,607.0 1892.1,610.0 1798.3,611.7 1697.5,614.0"/><polygon class="a" points="2537.4,163.7 2523.6,166.5 2536.2,173.0"/>
<path class="e" d="M2399.4,174.0C2332.9,177.7 2281.5,180.7 2200.0,185.0 2071.0,191.8 1864.5,201.2 1700.0,210.0 1539.6,218.6 1383.3,228.0 1224.9,237.0"/><polygon class="a" points="2386.3,179.4 2399.4,174.0 2385.8,170.1"/>
<path class="e" d="M2399.4,171.0C2166.3,178.0 1913.6,183.0 1700.0,192.0 1519.3,199.6 1313.7,210.8 1200.0,219.0 1141.0,223.2 1110.5,227.0 1065.8,231.0"/><polygon class="a" points="2386.2,176.1 2399.4,171.0 2385.9,166.7"/>
<path class="e" d="M2385.7,172.7L2380.1,173.0 2374.3,173.4 2368.3,173.7 2362.2,174.1 2355.9,174.5 2349.4,174.9 2342.8,175.3 2336.0,175.8 2329.1,176.2 2322.0,176.7 2314.7,177.2 2307.3,177.8 2299.8,178.3 2292.1,178.9 2284.3,179.5 2276.3,180.1 2268.1,180.8 2259.8,181.4 2251.4,182.1 2242.8,182.9 2234.0,183.6 2225.2,184.4 2216.1,185.2 2207.0,186.0 2197.7,186.9 2188.2,187.8 2178.7,188.7 2169.0,189.6 2159.2,190.6 2149.3,191.6 2139.3,192.6 2129.2,193.7 2119.1,194.8 2108.9,195.9 2098.7,197.1 2088.4,198.3 2078.2,199.5 2068.1,200.7 2058.0,202.0 2048.0,203.3 2038.2,204.7 2028.5,206.1 2019.0,207.5 2009.7,209.0 2000.7,210.5 1992.0,212.0 1983.6,213.6 1975.5,215.2 1967.7,216.8 1959.8,218.5 1952.2,220.3 1944.9,222.0 1937.7,223.8 1930.8,225.7 1924.0,227.5 1917.3,229.5 1910.4,231.5 1903.3,233.7 1895.9,236.1 1888.0,238.5 1879.4,241.0 1869.8,243.6 1860.1,246.3 1850.6,249.1 1841.5,251.9 1832.6,254.8 1824.0,257.7 1815.8,260.7 1807.9,263.6 1800.3,266.6 1793.0,269.6 1785.9,272.6 1779.1,275.5 1772.4,278.5 1765.9,281.4 1759.5,284.2 1753.2,287.0 1747.1,289.7 1741.2,292.3 1735.4,294.9 1729.8,297.3 1724.4,299.7 1719.2,301.9 1714.3,304.0"/><polygon class="a" points="2386.1,177.4 2399.1,172.0 2385.5,168.1"/>
<path class="e" d="M2443.1,192.4L2438.4,198.0 2433.3,204.0 2427.9,210.3 2422.3,216.8 2416.4,223.4 2410.3,230.1 2404.1,236.8 2397.8,243.4 2391.5,249.8 2385.2,256.1 2378.5,262.5 2371.8,268.9 2364.9,275.4 2358.0,281.8 2350.9,288.2 2343.9,294.6 2336.7,301.0 2329.6,307.3 2322.3,313.6 2315.1,319.9 2307.2,326.1 2298.7,332.3 2289.8,338.4 2280.6,344.4 2271.3,350.4 2261.9,356.2 2252.7,362.0 2243.9,367.8 2235.5,373.4 2227.6,378.9 2220.2,384.3 2213.4,389.5 2207.1,394.7 2200.9,399.7 2194.7,404.6 2188.5,409.4 2182.4,414.0 2176.4,418.4 2170.5,422.7 2164.8,426.8 2159.3,430.8 2154.1,434.5 2149.2,438.1 2144.5,441.5 2140.2,444.7 2136.1,447.7 2132.3,450.5 2128.8,453.0"/><polygon class="a" points="2446.9,195.0 2451.7,181.8 2439.7,189.1"/>
<path class="e" d="M2385.8,183.9L2378.8,185.3 2371.5,186.6 2364.0,188.1 2356.3,189.5 2348.5,191.0 2340.6,192.6 2332.5,194.1 2324.3,195.7 2316.1,197.2 2307.7,198.8 2299.3,200.4 2290.8,202.1 2282.3,203.7 2273.8,205.3 2265.3,206.9 2256.8,208.6 2248.3,210.2 2239.9,211.8 2231.6,213.4 2223.3,215.0 2215.1,216.5 2207.0,218.1 2199.0,219.6 2191.2,221.1 2183.6,222.6 2176.1,224.0 2168.7,225.4 2161.6,226.8 2154.7,228.1 2148.1,229.4"/><polygon class="a" points="2387.1,188.4 2399.4,181.3 2385.4,179.2"/>
<path class="e" d="M2419.4,186.6L2412.3,189.5 2404.9,192.5 2397.3,195.6 2389.5,198.8 2381.7,202.0 2373.7,205.3 2365.7,208.5 2357.8,211.7 2350.0,214.9 2342.4,218.0 2335.0,221.0 2327.9,223.9 2321.2,226.7 2314.8,229.3"/><polygon class="a" points="2421.4,190.8 2432.0,181.5 2417.9,182.2"/>
<path class="e" d="M2523.6,165.0C2654.6,187.0 2785.7,209.0 2916.7,231.0"/><polygon class="a" points="2537.5,162.6 2523.6,165.0 2536.0,171.8"/>
<path class="e" d="M2523.6,166.0C2549.1,169.3 2573.8,171.6 2600.0,176.0 2628.1,180.7 2658.8,186.9 2687.0,194.0 2714.4,200.9 2743.7,205.3 2767.0,218.0 2789.2,230.1 2812.3,245.0 2824.5,267.0 2838.4,292.0 2836.3,341.9 2839.0,364.0 2840.4,375.4 2838.3,380.6 2841.4,390.0 2845.9,403.4 2858.8,423.9 2868.9,435.0 2876.7,443.5 2885.6,447.3 2894.0,453.5"/><polygon class="a" points="2537.4,163.1 2523.6,166.0 2536.2,172.4"/>
<path class="e" d="M2385.6,174.2L2378.5,174.7 2371.1,175.2 2363.5,175.7 2355.7,176.3 2347.7,176.9 2339.4,177.5 2331.0,178.1 2322.3,178.8 2313.5,179.5 2304.4,180.2 2295.2,181.0 2285.9,181.7 2276.3,182.5 2266.6,183.3 2256.8,184.2 2246.8,185.0 2236.7,185.9 2226.5,186.8 2216.2,187.8 2205.8,188.7 2195.4,189.7 2184.9,190.7 2174.3,191.8 2163.7,192.9 2153.2,193.9 2142.7,195.1 2132.2,196.2 2121.9,197.4 2111.6,198.6 2101.5,199.8 2091.6,201.0 2081.9,202.3 2072.4,203.6 2063.2,204.9 2054.4,206.2 2045.9,207.6 2037.7,209.0 2030.0,210.4 2022.8,211.9 2015.9,213.3 2009.6,214.8 2003.8,216.4 1998.4,217.9 1993.6,219.5 1989.3,221.1 1985.5,222.7 1982.1,224.4 1979.0,226.0 1976.1,227.7 1973.5,229.5 1968.9,233.2 1963.7,237.4 1956.7,241.9 1948.0,246.8 1939.6,252.0 1931.8,257.4 1924.6,262.9 1917.9,268.4 1911.7,274.0 1906.0,279.5 1900.6,284.8 1895.5,290.0 1890.7,294.9 1886.3,299.4 1882.4,303.5"/><polygon class="a" points="2386.3,178.8 2399.3,173.2 2385.6,169.5"/>
<path class="e" d="M2523.6,165.5C2569.1,172.3 2617.3,180.1 2660.0,186.0 2697.8,191.2 2736.1,193.1 2767.0,199.5 2791.3,204.5 2812.6,208.4 2831.0,218.0 2847.8,226.8 2862.5,238.7 2874.0,253.0 2885.9,267.8 2894.4,287.5 2900.6,306.0 2906.7,324.5 2908.6,351.0 2911.0,364.0 2912.2,370.6 2912.9,374.0 2913.8,379.0"/><polygon class="a" points="2537.5,162.9 2523.6,165.5 2536.1,172.1"/>
<path class="e" d="M2491.0,189.1L2497.6,193.5 2504.5,198.1 2511.5,202.8 2518.6,207.6 2525.7,212.3 2532.6,216.9 2539.2,221.3 2545.5,225.5 2551.2,229.3"/><polygon class="a" points="2493.5,185.1 2479.8,181.6 2488.3,192.9"/>
<path class="e" d="M2523.6,168.0C2535.7,170.7 2547.3,172.2 2560.0,176.0 2574.8,180.4 2593.0,186.5 2606.8,194.0 2619.3,200.8 2631.4,209.4 2640.0,218.0 2647.0,225.0 2653.9,232.2 2656.0,240.0 2657.9,247.0 2656.4,253.7 2654.0,262.0 2650.4,274.2 2639.3,290.3 2632.0,304.5"/><polygon class="a" points="2537.6,166.3 2523.6,168.0 2535.6,175.4"/>
<path class="e" d="M2523.6,167.0C2549.1,171.3 2577.4,174.9 2600.0,180.0 2618.4,184.2 2635.3,185.0 2649.6,194.0 2664.6,203.5 2675.5,224.0 2687.0,237.0 2696.6,247.9 2707.3,256.1 2713.7,267.0 2719.7,277.2 2722.6,288.3 2725.0,300.0 2727.6,312.5 2727.4,323.4 2728.0,340.0 2729.0,367.6 2727.6,416.4 2728.0,450.0 2728.4,478.4 2729.3,502.3 2730.0,528.5"/><polygon class="a" points="2537.5,164.6 2523.6,167.0 2536.0,173.8"/>
<path class="e" d="M2463.5,181.0C2474.7,247.1 2485.8,313.2 2497.0,379.3"/><polygon class="a" points="2470.3,193.4 2463.5,181.0 2461.1,194.9"/>
<path class="e" d="M2523.6,164.0C2604.7,171.8 2698.0,179.9 2767.0,187.4 2818.2,192.9 2861.8,198.8 2900.6,203.5 2930.5,207.1 2960.4,210.1 2980.0,213.0 2991.6,214.7 2999.4,213.8 3007.5,218.0 3016.1,222.5 3023.4,231.9 3030.0,240.0 3036.7,248.2 3042.4,257.5 3047.5,267.0 3052.7,276.8 3057.9,285.4 3061.0,298.0 3065.4,315.6 3065.5,349.6 3066.0,364.0 3066.3,371.0 3066.0,374.3 3066.0,379.5"/><polygon class="a" points="2537.3,160.6 2523.6,164.0 2536.4,169.9"/>
<path class="e" d="M2906.0,480.0C2902.7,488.3 2900.8,496.4 2896.0,505.0 2890.0,515.6 2880.9,529.1 2871.0,538.0 2861.5,546.6 2851.0,552.8 2838.0,558.0 2821.8,564.5 2804.8,567.2 2780.0,571.0 2736.7,577.6 2671.9,581.6 2600.0,586.0 2493.0,592.6 2340.9,597.4 2200.0,602.0 2042.1,607.2 1865.0,610.7 1697.5,615.0"/><polygon class="a" points="2905.4,494.1 2906.0,480.0 2896.7,490.6"/>
<path class="e" d="M1909.0,320.7L1914.9,321.0 1921.1,321.3 1927.6,321.7 1934.4,322.0 1941.6,322.4 1949.0,322.9 1956.7,323.3 1964.7,323.8 1972.9,324.3 1981.3,324.8 1989.9,325.3 1998.8,325.9 2007.8,326.5 2017.0,327.1 2026.3,327.7 2035.8,328.4 2045.4,329.0 2055.2,329.7 2065.0,330.5 2074.9,331.2 2084.9,332.0 2094.9,332.8 2104.9,333.6 2115.0,334.4 2125.1,335.3 2135.1,336.2 2145.2,337.1 2155.1,338.0 2165.1,339.0 2174.9,340.0 2184.7,341.0 2194.3,342.0 2203.8,343.1 2213.2,344.1 2222.4,345.3 2231.4,346.4 2240.2,347.5 2248.8,348.7 2257.2,349.9 2265.3,351.1 2273.3,352.4 2280.9,353.6 2288.3,354.9 2295.4,356.2 2302.2,357.6 2308.6,358.9 2314.7,360.3 2320.5,361.7 2325.9,363.2 2330.9,364.6 2335.5,366.1 2339.7,367.6 2343.6,369.1 2347.0,370.7 2349.9,372.3 2352.5,373.9 2354.6,375.5 2356.2,377.1 2357.4,378.8 2361.5,385.7 2365.8,392.5 2370.0,399.2 2373.4,405.9 2376.2,412.6 2378.2,419.3 2379.6,426.2 2380.1,433.2 2379.9,440.3 2378.8,447.7 2376.8,455.3 2373.9,463.3 2370.0,471.5 2365.4,480.1 2360.0,489.4 2354.7,497.6 2349.6,504.9 2344.6,511.4 2339.5,517.2 2334.4,522.4 2329.0,527.1 2323.4,531.4 2317.3,535.4 2310.7,539.2 2303.4,543.0 2295.6,546.8 2287.0,550.7 2277.6,554.8 2273.2,556.6 2268.6,558.4 2263.7,560.1 2258.5,561.9 2253.2,563.5 2247.6,565.2 2241.7,566.8 2235.7,568.4 2229.4,569.9 2223.0,571.4 2216.3,572.9 2209.5,574.3 2202.4,575.7 2195.2,577.1 2187.9,578.4 2180.3,579.7 2172.6,581.0 2164.7,582.3 2156.7,583.5 2148.6,584.7 2140.3,585.8 2132.0,586.9 2123.4,588.0 2114.8,589.1 2106.1,590.1 2097.3,591.1 2088.4,592.1 2079.4,593.1 2070.3,594.0 2061.2,594.9 2052.0,595.8 2042.8,596.6 2033.5,597.4 2024.1,598.2 2014.7,599.0 2005.3,599.8 1995.9,600.5 1986.4,601.2 1977.0,601.9 1967.5,602.5 1958.1,603.1 1948.6,603.8 1939.2,604.3 1929.8,604.9 1920.4,605.5 1911.1,606.0 1901.8,606.5 1892.5,607.0 1883.4,607.4 1874.2,607.9 1865.2,608.3 1856.2,608.7 1847.3,609.1 1838.5,609.5 1829.9,609.9 1821.3,610.2 1812.8,610.5 1804.4,610.8 1796.2,611.1 1788.1,611.4 1780.1,611.7 1772.3,611.9 1764.7,612.2 1757.2,612.4 1749.8,612.6 1742.7,612.8 1735.7,613.0 1728.9,613.2 1722.3,613.3 1715.8,613.5 1709.6,613.6 1703.7,613.8 1697.9,613.9"/><polygon class="a" points="1909.1,316.0 1895.6,320.0 1908.6,325.3"/>
<path class="e" d="M1830.9,324.3L1822.8,325.4 1814.4,326.5 1805.8,327.6 1797.1,328.7 1788.5,329.8 1780.0,330.8 1775.1,331.4 1769.9,332.0 1764.4,332.7 1758.7,333.3 1752.7,334.0 1746.5,334.7 1740.0,335.4 1733.3,336.2 1726.3,337.0 1719.2,337.7 1711.8,338.6 1704.2,339.4 1696.5,340.2 1688.5,341.1 1680.4,342.0 1672.2,342.9 1663.7,343.8 1655.2,344.7 1646.5,345.6 1637.6,346.6 1628.7,347.5 1619.6,348.5 1610.5,349.4 1601.2,350.4 1591.9,351.4 1582.4,352.4 1573.0,353.4 1563.4,354.4 1553.9,355.4 1544.2,356.4 1534.6,357.4 1524.9,358.4 1515.2,359.4 1505.5,360.5 1495.9,361.5 1486.2,362.5 1476.5,363.5 1466.9,364.5 1457.4,365.5 1447.8,366.5 1438.4,367.4 1429.0,368.4 1419.7,369.4 1410.4,370.3 1401.3,371.3 1392.3,372.2 1383.3,373.1 1374.5,374.0 1365.9,374.9 1357.3,375.8 1348.9,376.6 1340.7,377.5 1332.6,378.3 1324.7,379.1 1317.0,379.9 1309.5,380.7 1302.2,381.4 1295.1,382.2 1288.2,382.9 1281.5,383.5 1275.1,384.2 1268.9,384.8 1263.0,385.4"/><polygon class="a" points="1832.0,328.9 1844.6,322.4 1830.8,319.6"/>
<path class="e" d="M1830.9,324.6L1822.8,325.7 1814.4,326.8 1805.8,327.9 1797.1,328.9 1788.5,329.9 1780.0,330.8 1769.3,331.9 1758.7,333.0 1748.4,334.0 1738.3,335.0 1728.4,335.9 1718.6,336.8 1709.0,337.6 1699.6,338.4 1690.4,339.2 1681.3,339.9 1672.4,340.6 1663.6,341.2 1655.0,341.9 1646.5,342.4 1638.2,343.0 1629.9,343.5 1621.8,344.0 1613.9,344.5 1606.0,344.9 1598.3,345.4 1590.6,345.8 1583.1,346.2 1575.6,346.5 1568.2,346.9 1560.9,347.2 1553.7,347.5 1546.6,347.8 1539.5,348.1 1532.4,348.4 1525.5,348.7 1518.6,348.9 1511.7,349.2 1504.8,349.4 1498.0,349.7 1491.2,349.9 1484.5,350.2 1477.7,350.4 1471.0,350.7 1464.3,350.9 1457.5,351.2 1450.8,351.5 1444.1,351.7 1437.3,352.0 1430.5,352.3 1423.7,352.6 1416.8,353.0 1410.0,353.3 1403.0,353.6 1396.1,354.0 1389.0,354.4 1381.9,354.8 1374.8,355.2 1367.5,355.7 1360.2,356.2 1352.9,356.7 1345.4,357.2 1337.8,357.8 1330.2,358.4 1322.4,359.0 1314.5,359.7 1306.5,360.4 1298.4,361.1 1290.2,361.9 1281.8,362.7 1273.3,363.5 1264.7,364.4 1255.9,365.3 1246.9,366.3 1237.9,367.3 1228.6,368.4 1219.2,369.5 1209.6,370.7 1199.8,371.9 1189.8,373.2 1179.7,374.5 1169.3,375.9 1158.8,377.4 1148.0,378.9 1143.9,379.5 1139.7,380.1 1135.5,380.9"/><polygon class="a" points="1832.1,329.1 1844.6,322.6 1830.8,319.9"/>
<path class="e" d="M1830.2,328.5L1823.5,330.1 1816.5,331.8 1809.1,333.6 1801.3,335.4 1793.3,337.3 1785.1,339.3 1776.6,341.4 1768.0,343.4 1759.2,345.6 1750.2,347.7 1741.1,349.9 1732.0,352.1 1722.9,354.3 1713.7,356.5 1704.6,358.7 1695.5,360.9 1686.5,363.0 1677.6,365.2 1668.8,367.3 1660.3,369.3 1651.9,371.3 1643.8,373.3 1635.9,375.2 1628.3,377.0 1621.1,378.7"/><polygon class="a" points="1832.4,332.8 1844.3,325.1 1830.2,323.7"/>
<path class="e" d="M1888.2,342.2L1891.3,349.2 1893.3,356.8 1894.0,364.7 1893.6,372.9 1892.5,381.2 1891.3,389.5 1889.8,397.6 1886.4,405.4 1881.4,412.7 1875.6,419.4 1869.3,425.7 1862.5,431.5 1855.4,436.7 1848.2,441.5 1841.0,445.9 1833.8,449.8 1826.8,453.2"/><polygon class="a" points="1892.2,339.8 1881.0,331.1 1884.3,344.8"/>
<path class="e" d="M1895.5,321.0C2010.3,327.2 2109.4,331.0 2240.0,339.5 2412.5,350.7 2770.9,379.7 2840.0,385.0 2854.4,386.1 2857.5,386.3 2866.2,387.0"/><polygon class="a" points="1909.1,317.1 1895.5,321.0 1908.6,326.4"/>
<path class="e" d="M2912.6,419.4L2912.0,428.2 2911.3,437.0 2910.7,445.5 2910.1,453.0"/><polygon class="a" points="2917.3,419.7 2913.6,406.0 2908.0,419.0"/>
<path class="e" d="M2559.0,255.5C2553.3,269.8 2545.3,284.3 2541.8,298.4 2538.7,311.1 2538.3,324.4 2538.0,336.0 2537.7,346.0 2538.6,354.8 2539.3,364.0 2539.9,372.8 2541.3,380.4 2541.8,390.0 2542.5,401.7 2542.9,415.2 2542.5,429.0 2542.1,444.6 2541.1,462.4 2539.0,479.0 2536.9,495.7 2536.8,514.6 2530.0,529.0 2523.5,542.7 2512.7,555.3 2500.0,564.0 2486.4,573.3 2471.5,576.7 2450.0,581.5 2413.7,589.5 2366.8,592.4 2300.0,596.5 2166.4,604.8 1898.3,606.2 1697.5,611.0"/><polygon class="a" points="2558.4,269.6 2559.0,255.5 2549.7,266.1"/>
<path class="e" d="M2586.7,267.7L2592.1,275.1 2597.8,282.7 2603.3,290.2 2608.5,297.4 2613.2,303.7"/><polygon class="a" points="2590.2,264.6 2578.5,256.6 2582.7,270.1"/>
<path class="e" d="M2627.0,330.5C2627.7,343.7 2627.9,356.4 2629.0,370.0 2630.2,384.5 2633.7,399.4 2634.0,415.0 2634.3,431.9 2632.8,453.9 2630.0,468.0 2628.0,477.7 2626.2,483.4 2622.0,492.0 2616.4,503.6 2605.7,518.3 2597.0,530.0 2589.0,540.8 2581.2,552.9 2572.0,560.0 2564.3,566.0 2559.2,568.4 2547.0,572.0 2518.8,580.3 2461.1,585.0 2400.0,590.0 2299.5,598.3 2124.1,602.8 2000.0,607.0 1892.2,610.6 1798.3,612.0 1697.5,614.5"/><polygon class="a" points="2632.3,343.6 2627.0,330.5 2623.0,344.0"/>
<path class="e" d="M2658.0,553.0C2337.8,573.0 2017.7,593.0 1697.5,613.0"/><polygon class="a" points="2645.0,558.5 2658.0,553.0 2644.4,549.2"/>
<path class="e" d="M2506.0,405.5C2508.7,421.7 2513.0,438.6 2514.0,454.0 2514.9,467.9 2515.3,480.5 2512.5,494.0 2509.4,508.8 2503.8,526.1 2495.0,539.0 2486.3,551.9 2474.4,563.7 2460.0,571.5 2443.6,580.4 2424.7,582.4 2400.0,586.5 2361.5,592.9 2315.8,595.6 2250.0,599.0 2123.9,605.5 1881.7,606.3 1697.5,610.0"/><polygon class="a" points="2512.8,417.9 2506.0,405.5 2503.6,419.4"/>
<path class="e" d="M2455.4,407.4L2448.5,409.6 2441.2,411.9 2433.7,414.2 2425.9,416.6 2417.9,419.1 2409.8,421.6 2401.6,424.2 2393.3,426.8 2384.9,429.4 2376.6,432.0 2368.2,434.6 2360.0,437.1 2351.9,439.6 2343.9,442.1 2336.1,444.5 2328.6,446.9 2321.3,449.2 2314.4,451.3 2307.7,453.4"/><polygon class="a" points="2457.2,411.8 2468.5,403.4 2454.4,402.9"/>
<path class="e" d="M3053.5,405.5C3045.7,417.0 3038.6,428.3 3030.0,440.0 3020.6,452.8 3010.7,467.3 2999.0,479.0 2987.3,490.7 2972.9,500.6 2960.0,510.0 2947.9,518.8 2938.7,526.5 2924.0,534.0 2904.0,544.1 2876.2,554.6 2849.0,561.5 2818.4,569.3 2792.6,572.0 2749.0,576.5 2668.0,584.8 2520.3,590.7 2400.0,596.0 2271.2,601.7 2124.0,605.7 2000.0,609.0 1892.1,611.9 1798.3,613.3 1697.5,615.5"/><polygon class="a" points="3049.9,419.1 3053.5,405.5 3042.1,413.9"/>
<path class="e" d="M3026.4,411.4L3019.1,414.8 3011.6,418.2 3003.7,421.9 2995.7,425.5 2987.7,429.2 2979.6,433.0 2971.6,436.6 2963.8,440.3 2956.1,443.8 2948.8,447.1 2941.9,450.3 2935.4,453.3"/><polygon class="a" points="3029.0,415.4 3039.1,405.6 3025.1,406.9"/>
<path class="e" d="M2848.3,101.0C2865.5,105.0 2881.3,108.6 2900.0,113.0 2922.2,118.2 2949.5,124.3 2972.8,130.0 2994.5,135.3 3013.7,139.1 3035.6,146.0 3060.5,153.8 3091.6,165.5 3114.0,175.4 3131.6,183.2 3148.6,190.6 3160.0,199.0 3168.1,205.0 3174.6,209.3 3178.4,218.0 3183.6,229.9 3180.4,245.4 3181.0,267.0 3182.2,309.4 3182.6,416.5 3182.0,455.0 3181.7,472.1 3182.8,480.5 3180.7,492.0 3178.8,502.7 3177.6,514.2 3170.7,522.0 3162.8,530.9 3147.5,535.8 3133.0,540.0 3115.3,545.1 3094.2,545.3 3071.0,547.0 3041.7,549.1 2998.6,548.2 2971.0,550.0 2951.4,551.3 2941.4,552.8 2921.0,555.0 2888.8,558.6 2831.2,564.7 2796.5,570.0 2771.3,573.8 2761.8,578.5 2731.6,582.0 2664.0,589.8 2515.7,593.5 2400.0,598.0 2272.9,603.0 2124.0,606.9 2000.0,610.0 1892.1,612.7 1798.3,614.0 1697.5,616.0"/><polygon class="a" points="2862.3,99.5 2848.3,101.0 2860.2,108.6"/>
<path class="e" d="M2746.6,97.0C2660.4,99.3 2607.0,100.4 2488.0,104.0 2222.3,112.1 1387.1,140.0 1200.0,148.0 1147.8,150.2 1143.4,151.3 1100.0,153.1 1019.4,156.5 869.5,160.8 754.2,164.7"/><polygon class="a" points="2733.4,102.0 2746.6,97.0 2733.1,92.7"/>
<path class="e" d="M2838.0,106.5C2843.0,108.3 2846.6,109.3 2852.9,112.0 2864.3,116.9 2884.0,126.4 2900.0,135.0 2917.2,144.3 2935.5,153.7 2952.6,166.0 2971.1,179.3 2993.5,199.7 3006.6,213.0 3015.1,221.6 3022.5,227.5 3026.0,236.0 3029.2,243.9 3029.5,252.2 3028.0,262.0 3025.8,276.0 3018.7,295.5 3008.0,311.0 2995.0,329.8 2965.1,351.8 2951.0,364.0 2943.1,370.9 2938.3,374.3 2932.0,379.5"/><polygon class="a" points="2852.1,106.7 2838.0,106.5 2848.9,115.5"/>
<rect class="n" style="fill:#bfbfbf" x="1148.5" y="5.8" width="126.7" height="25.3"/><text x="1211.8" y="21.9">PxPreprocessor.h</text>
<rect class="n" x="130.8" y="80.8" width="194.0" height="25.3"/><text x="227.8" y="97.0">PxWindowsDelayLoadHook.h</text>
<rect class="n" x="799.4" y="80.8" width="174.9" height="25.3"/><text x="886.8" y="97.0">PxCudaContextManager.h</text>
<rect class="n" x="998.3" y="80.8" width="176.3" height="25.3"/><text x="1086.4" y="97.0">PxCudaMemoryManager.h</text>
<rect class="n" x="2746.6" y="80.8" width="101.7" height="25.3"/><text x="2797.4" y="97.0">PxIntrinsics.h</text>
<rect class="n" x="675.2" y="155.4" width="79.0" height="25.3"/><text x="714.7" y="171.6">PxMath.h</text>
<rect class="n" x="1023.3" y="155.4" width="113.1" height="25.3"/><text x="1079.8" y="171.6">PxTaskDefine.h</text>
<rect class="n" x="1498.5" y="155.4" width="127.9" height="25.3"/><text x="1562.5" y="171.6">PxConstraintExt.h</text>
<rect class="n" x="2399.4" y="155.4" width="124.2" height="25.3"/><text x="2461.5" y="171.6">PxSimpleTypes.h</text>
<rect class="r" x="581.8" y="230.0" width="78.9" height="25.3"/><text x="621.2" y="246.2">PxVec3.h</text>
<rect class="n" x="939.4" y="230.0" width="126.4" height="25.3"/><text x="1002.6" y="246.2">PxTaskManager.h</text>
<rect class="r" x="1089.5" y="230.0" width="135.4" height="25.3"/><text x="1157.2" y="246.2">PxCpuDispatcher.h</text>
<rect class="n" x="1997.3" y="230.0" width="175.8" height="25.3"/><text x="2085.2" y="246.2">PxBVH33MidphaseDesc.h</text>
<rect class="n" x="2197.2" y="230.0" width="176.0" height="25.3"/><text x="2285.2" y="246.2">PxBVH34MidphaseDesc.h</text>
<rect class="n" x="2499.1" y="230.0" width="140.3" height="25.3"/><text x="2569.2" y="246.2">PxVehicleShaders.h</text>
<rect class="n" x="2917.7" y="230.0" width="90.1" height="25.3"/><text x="2962.8" y="246.2">PxFileBuf.h</text>
<rect class="r" x="424.0" y="304.9" width="79.3" height="25.3"/><text x="463.6" y="321.0">PxVec4.h</text>
<rect class="r" x="578.5" y="304.9" width="83.0" height="25.3"/><text x="620.0" y="321.0">PxPlane.h</text>
<rect class="n" x="1134.3" y="304.9" width="150.0" height="25.3"/><text x="1209.3" y="321.0">PxFoundationConfig.h</text>
<rect class="r" x="1307.5" y="304.9" width="107.2" height="25.3"/><text x="1361.1" y="321.0">PxGeometry.h</text>
<rect class="n" x="1602.8" y="304.9" width="167.7" height="25.3"/><text x="1686.7" y="321.0">PxVehicleUtilTelemetry.h</text>
<rect class="r" x="1846.1" y="304.9" width="49.0" height="25.3"/><text x="1870.6" y="321.0">Px.h</text>
<rect class="n" x="2105.3" y="304.9" width="134.2" height="25.3"/><text x="2172.4" y="321.0">PxMidphaseDesc.h</text>
<rect class="r" x="2554.3" y="304.9" width="136.2" height="25.3"/><text x="2622.4" y="321.0">PxVehicleWheels.h</text>
<rect class="r" x="882.5" y="379.6" width="139.1" height="25.3"/><text x="952.0" y="395.7">PxPlaneGeometry.h</text>
<rect class="r" x="1046.1" y="379.6" width="86.6" height="25.3"/><text x="1089.4" y="395.7">PxAssert.h</text>
<rect class="n" x="1157.2" y="379.6" width="104.2" height="25.3"/><text x="1209.3" y="395.7">PxMathUtils.h</text>
<rect class="r" x="1336.6" y="379.6" width="153.2" height="25.3"/><text x="1413.2" y="395.7">PxCapsuleGeometry.h</text>
<rect class="r" x="1513.5" y="379.6" width="113.8" height="25.3"/><text x="1570.4" y="395.7">PxFoundation.h</text>
<rect class="n" x="2058.3" y="379.6" width="113.9" height="25.3"/><text x="2115.2" y="395.7">PxStringTable.h</text>
<rect class="n" x="2246.6" y="379.6" width="95.9" height="25.3"/><text x="2294.6" y="395.7">PxCooking.h</text>
<rect class="r" x="2468.8" y="379.6" width="62.7" height="25.3"/><text x="2500.2" y="395.7">PxIO.h</text>
<rect class="r" x="2866.2" y="379.6" width="96.8" height="25.3"/><text x="2914.6" y="395.7">PxMemory.h</text>
<rect class="n" x="2987.0" y="379.6" width="156.6" height="25.3"/><text x="3065.3" y="395.7">PxVehicleTireFriction.h</text>
<rect class="n" x="42.4" y="454.1" width="115.0" height="25.3"/><text x="99.9" y="470.2">PxForceMode.h</text>
<rect class="n" x="181.5" y="454.1" width="183.1" height="25.3"/><text x="273.1" y="470.2">PxVisualizationParameter.h</text>
<rect class="r" x="781.1" y="454.1" width="77.3" height="25.3"/><text x="819.8" y="470.2">PxTask.h</text>
<rect class="r" x="1460.3" y="454.1" width="140.4" height="25.3"/><text x="1530.5" y="470.2">PxMassProperties.h</text>
<rect class="n" x="1727.4" y="454.1" width="134.5" height="25.3"/><text x="1794.7" y="470.2">PxStringTableExt.h</text>
<rect class="n" x="2038.8" y="454.1" width="146.3" height="25.3"/><text x="2111.9" y="470.2">PxRepXSimpleType.h</text>
<rect class="n" x="2209.2" y="454.1" width="120.0" height="25.3"/><text x="2269.2" y="470.2">PxSerialization.h</text>
<rect class="n" x="2842.1" y="454.1" width="134.1" height="25.3"/><text x="2909.1" y="470.2">PxVehicleUpdate.h</text>
<rect class="r" x="54.0" y="529.0" width="108.0" height="25.3"/><text x="108.0" y="545.1">PxRigidBody.h</text>
<rect class="r" x="490.9" y="529.0" width="86.8" height="25.3"/><text x="534.3" y="545.1">PxScene.h</text>
<rect class="r" x="706.8" y="529.0" width="103.8" height="25.3"/><text x="758.7" y="545.1">PxJointLimit.h</text>
<rect class="n" x="908.6" y="529.0" width="78.9" height="25.3"/><text x="948.0" y="545.1">PxVec2.h</text>
<rect class="n" x="1676.7" y="529.0" width="134.5" height="25.3"/><text x="1744.0" y="545.1">PxExtensionsAPI.h</text>
<rect class="n" x="2043.0" y="529.0" width="132.6" height="25.3"/><text x="2109.3" y="545.1">PxRepXSerializer.h</text>
<rect class="n" x="2658.1" y="529.0" width="145.0" height="25.3"/><text x="2730.6" y="545.1">PxVehicleUtilSetup.h</text>
<rect class="n" x="1580.3" y="603.5" width="117.2" height="25.3"/><text x="1638.9" y="619.6">PxPhysicsAPI.h</text>
</svg></body></html>
